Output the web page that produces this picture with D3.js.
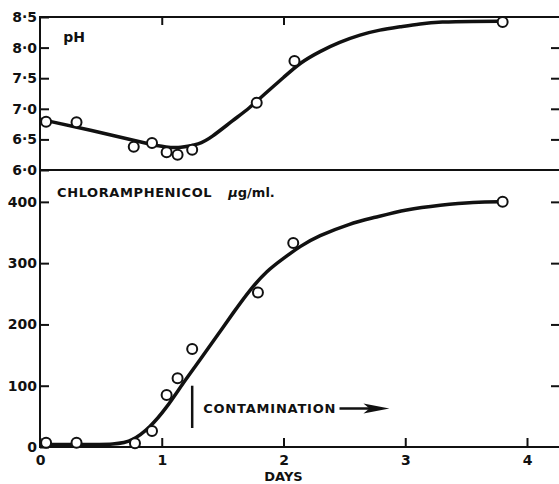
<!DOCTYPE html>
<html>
<head>
<meta charset="utf-8">
<script src="https://cdn.jsdelivr.net/npm/d3@7"></script>
<style>
  body { margin: 0; background: #fff; }
  text { font-family: "DejaVu Sans", sans-serif; font-weight: bold; fill: #111; }
</style>
</head>
<body>
<svg id="drawing_region" width="559" height="484"></svg>
<script>
// measured points
const phDays = [0.05, 0.30, 0.77, 0.92, 1.04, 1.13, 1.25, 1.78, 2.09, 3.80];
const phValues = [6.79, 6.78, 6.38, 6.44, 6.29, 6.25, 6.33, 7.10, 7.78, 8.42];
const chlDays = [0.05, 0.30, 0.78, 0.92, 1.04, 1.13, 1.25, 1.79, 2.08, 3.80];
const chlValues = [7, 7, 6, 26, 85, 112, 160, 252, 333, 400];

// fitted curves as drawn
const phCurveDays = [0, 0.49, 0.90, 1.04, 1.15, 1.31, 1.40, 1.59, 1.72, 1.86, 2.00, 2.14, 2.30, 2.46, 2.63, 2.79, 2.96, 3.12, 3.29, 3.55, 3.81];
const phCurveValues = [6.83, 6.62, 6.42, 6.37, 6.36, 6.42, 6.52, 6.82, 7.01, 7.27, 7.51, 7.76, 7.94, 8.09, 8.21, 8.29, 8.34, 8.39, 8.42, 8.43, 8.43];
const chlCurveDays = [0, 0.30, 0.63, 0.76, 0.90, 1.04, 1.17, 1.31, 1.45, 1.59, 1.73, 1.86, 2.00, 2.14, 2.28, 2.55, 2.74, 3.01, 3.29, 3.56, 3.81];
const chlCurveValues = [4, 4, 4, 10, 31, 64, 103, 141, 180, 220, 258, 287, 308, 328, 344, 365, 374, 388, 395, 400, 400];

// ticks
const dayTicks = [0, 1, 2, 3, 4];
const topDayTicks = [1, 2];
const phTicks = [6.0, 6.5, 7.0, 7.5, 8.0, 8.5];
const chlTicks = [0, 100, 200, 300, 400];

const margin = { left: 40, right: 560, top: 17, mid: 170, bottom: 447 };

var svg = d3.select('#drawing_region');

const xscale = d3.scaleLinear().domain([0, 4]).range([margin.left, 527]);
const yph = d3.scaleLinear().domain([6.0, 8.5]).range([margin.mid, margin.top]);
const ychl = d3.scaleLinear().domain([0, 452]).range([margin.bottom, margin.mid]);

const fmtPh = d => d3.format('.1f')(d).replace('.', '\u00b7');

// frames
[[margin.top, margin.mid], [margin.mid, margin.bottom]].forEach(p => {
    svg.append('rect')
        .attr('x', margin.left).attr('y', p[0])
        .attr('width', margin.right - margin.left).attr('height', p[1] - p[0])
        .attr('fill', 'none').attr('stroke', '#111').attr('stroke-width', 2);
});

function styleAxis(g) {
    g.select('.domain').remove();
    g.selectAll('.tick line').attr('stroke', '#111').attr('stroke-width', 2);
    g.selectAll('.tick text')
        .attr('fill', '#111')
        .style('font-family', '"DejaVu Sans", sans-serif')
        .style('font-weight', 'bold')
        .style('font-size', '14px');
}

svg.append('g').attr('transform', `translate(${margin.left},0)`)
    .call(d3.axisLeft(yph).tickValues(phTicks).tickFormat(fmtPh).tickSizeInner(-9).tickSizeOuter(0).tickPadding(3))
    .call(styleAxis);
svg.append('g').attr('transform', `translate(${margin.left},0)`)
    .call(d3.axisLeft(ychl).tickValues(chlTicks).tickFormat(d3.format('d')).tickSizeInner(-9).tickSizeOuter(0).tickPadding(3))
    .call(styleAxis);
svg.append('g').attr('transform', `translate(${margin.right},0)`)
    .call(d3.axisRight(yph).tickValues(phTicks.slice(1, -1)).tickFormat('').tickSizeInner(-9).tickSizeOuter(0))
    .call(styleAxis);
svg.append('g').attr('transform', `translate(${margin.right},0)`)
    .call(d3.axisRight(ychl).tickValues(chlTicks.slice(1)).tickFormat('').tickSizeInner(-9).tickSizeOuter(0))
    .call(styleAxis);
svg.append('g').attr('transform', `translate(0,${margin.bottom})`)
    .call(d3.axisBottom(xscale).tickValues(dayTicks).tickFormat(d3.format('d')).tickSizeInner(-9).tickSizeOuter(0).tickPadding(8))
    .call(styleAxis);
svg.append('g').attr('transform', `translate(0,${margin.top})`)
    .call(d3.axisTop(xscale).tickValues(topDayTicks).tickFormat('').tickSizeInner(-8).tickSizeOuter(0))
    .call(styleAxis);

// curves
const phLine = d3.line().x(d => xscale(d[0])).y(d => yph(d[1])).curve(d3.curveBasis);
const chlLine = d3.line().x(d => xscale(d[0])).y(d => ychl(d[1])).curve(d3.curveBasis);

svg.append('path')
    .datum(d3.zip(phCurveDays, phCurveValues))
    .attr('d', phLine)
    .attr('fill', 'none').attr('stroke', '#111').attr('stroke-width', 3.5);
svg.append('path')
    .datum(d3.zip(chlCurveDays, chlCurveValues))
    .attr('d', chlLine)
    .attr('fill', 'none').attr('stroke', '#111').attr('stroke-width', 3.5);

// points
svg.selectAll('circle.ph')
    .data(d3.zip(phDays, phValues))
    .join('circle').attr('class', 'ph')
    .attr('cx', d => xscale(d[0])).attr('cy', d => yph(d[1])).attr('r', 5)
    .attr('fill', '#fff').attr('stroke', '#111').attr('stroke-width', 2);
svg.selectAll('circle.chl')
    .data(d3.zip(chlDays, chlValues))
    .join('circle').attr('class', 'chl')
    .attr('cx', d => xscale(d[0])).attr('cy', d => ychl(d[1])).attr('r', 5)
    .attr('fill', '#fff').attr('stroke', '#111').attr('stroke-width', 2);

// labels
svg.append('text')
    .attr('x', xscale(0.19)).attr('y', yph(8.09))
    .style('font-size', '14px')
    .text('pH');

var chlLabel = svg.append('text')
    .attr('x', xscale(0.14)).attr('y', ychl(408))
    .style('font-size', '13px');
chlLabel.append('tspan').style('letter-spacing', '0.6px').text('CHLORAMPHENICOL');
chlLabel.append('tspan').attr('dx', 16).style('font-style', 'italic').text('\u03bc');
chlLabel.append('tspan').text('g/ml.');

svg.append('text')
    .attr('x', xscale(2)).attr('y', 481)
    .attr('text-anchor', 'middle')
    .style('font-size', '13px')
    .text('DAYS');

// contamination marker
svg.append('line')
    .attr('x1', xscale(1.25)).attr('x2', xscale(1.25))
    .attr('y1', ychl(100)).attr('y2', ychl(31))
    .attr('stroke', '#111').attr('stroke-width', 2.5);
svg.append('text')
    .attr('x', xscale(1.34)).attr('y', ychl(55))
    .style('font-size', '13px').style('letter-spacing', '0.8px')
    .text('CONTAMINATION');

var ax0 = xscale(2.46), ax1 = xscale(2.87), ay = ychl(63);
svg.append('line')
    .attr('x1', ax0).attr('x2', ax1 - 10).attr('y1', ay).attr('y2', ay)
    .attr('stroke', '#111').attr('stroke-width', 2.5);
svg.append('path')
    .attr('d', `M${ax1},${ay} L${ax1 - 26},${ay - 5} L${ax1 - 20},${ay} L${ax1 - 26},${ay + 5} Z`)
    .attr('fill', '#111');
</script>
</body>
</html>
